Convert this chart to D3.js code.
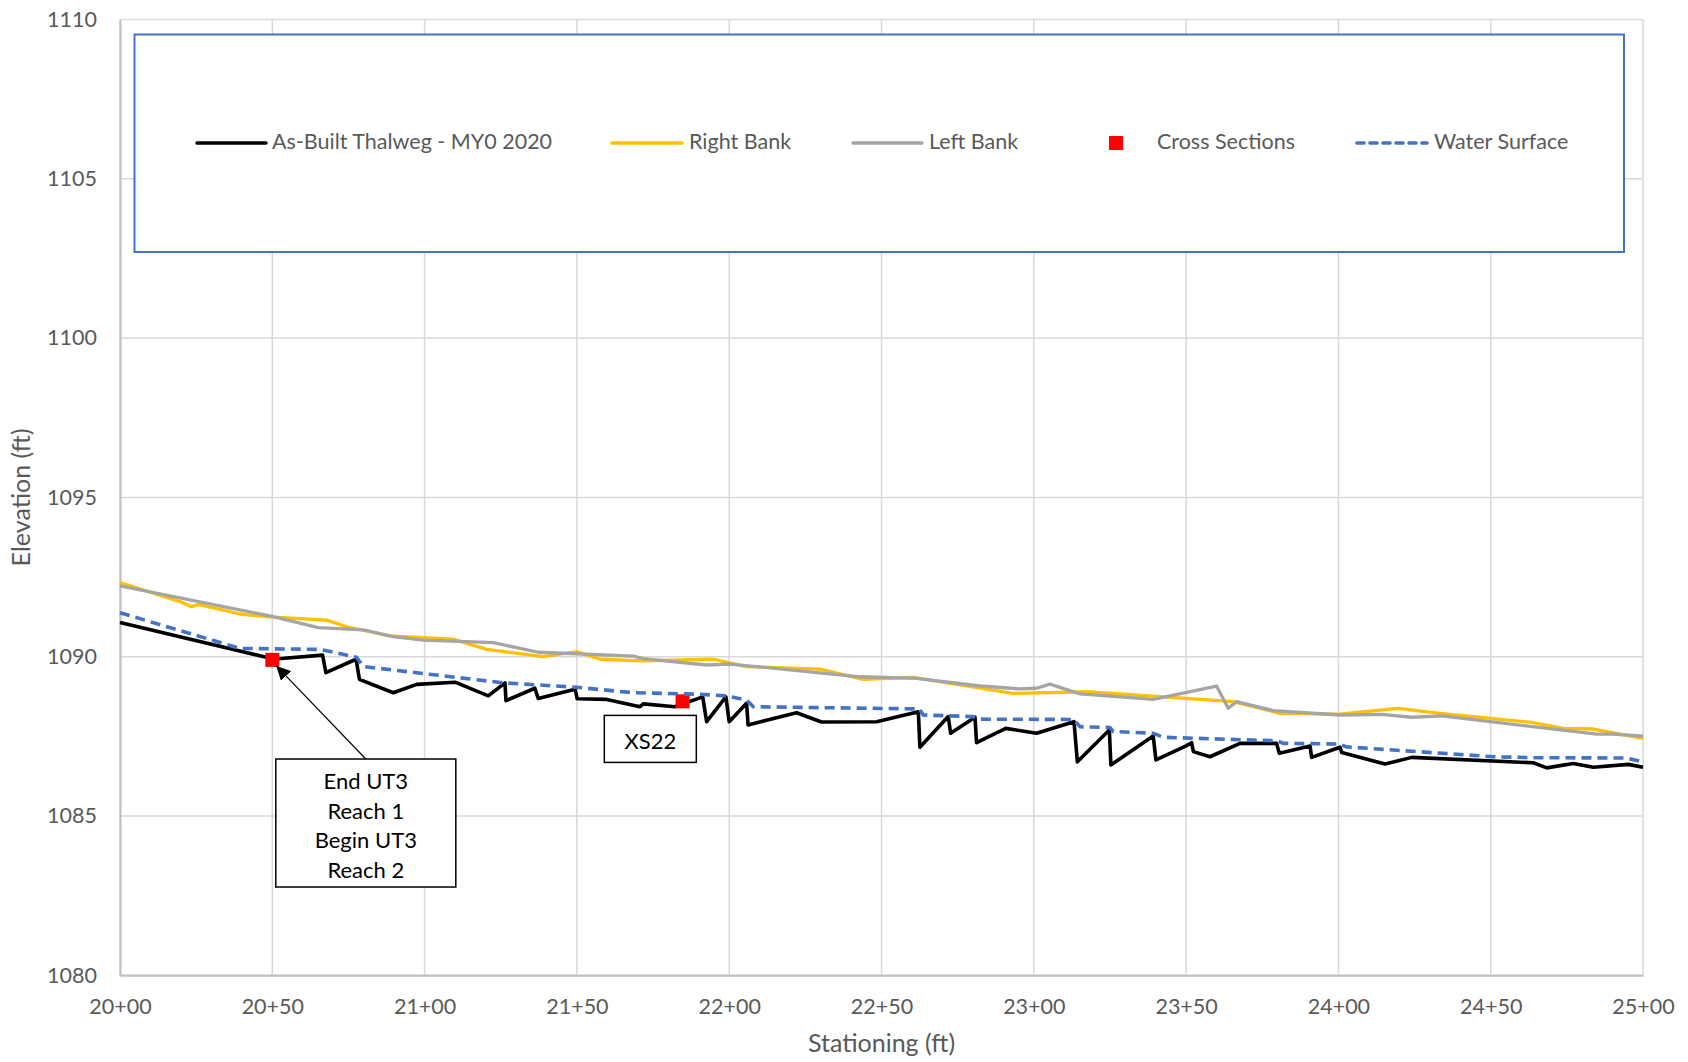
<!DOCTYPE html>
<html>
<head>
<meta charset="utf-8">
<script src="https://cdn.jsdelivr.net/npm/d3@7"></script>
<style>
  html, body { margin: 0; padding: 0; background: #fff; }
  svg { display: block; font-family: Lato, "Open Sans", sans-serif; }
</style>
</head>
<body>
<svg id="chart" width="1688" height="1062"></svg>
<script>
// Longitudinal profile, stationing in feet (2000 = 20+00), elevation in feet
const thalweg = [
  [2000,1091.07],[2048,1089.98],[2050,1089.92],[2066.5,1090.05],[2067.6,1089.5],
  [2077.5,1089.92],[2078.6,1089.29],[2089.7,1088.87],[2097.4,1089.13],[2110,1089.2],
  [2120.9,1088.77],[2126.4,1089.18],[2126.7,1088.62],[2136.2,1089.01],[2137.3,1088.69],
  [2149.4,1088.98],[2150.1,1088.68],[2159.8,1088.66],[2170.7,1088.43],[2171.8,1088.52],
  [2182.2,1088.43],[2191.3,1088.74],[2192.6,1087.96],[2198.9,1088.74],[2200,1087.96],
  [2205.7,1088.54],[2206.2,1087.86],[2222.1,1088.24],[2230.3,1087.95],[2248.4,1087.96],
  [2262.1,1088.27],[2262.6,1087.16],[2271.9,1088.12],[2272.7,1087.6],[2280.7,1088.1],
  [2281.2,1087.3],[2290.8,1087.75],[2300.9,1087.6],[2313.2,1087.96],[2314.3,1086.7],
  [2324.8,1087.7],[2325.3,1086.6],[2339.2,1087.51],[2340.1,1086.76],[2350,1087.2],
  [2351.8,1087.3],[2352.4,1087.02],[2357.8,1086.86],[2367.7,1087.28],[2379.7,1087.28],
  [2380.6,1086.97],[2390.7,1087.2],[2391.2,1086.84],[2400.5,1087.16],[2401.1,1086.99],
  [2415.3,1086.63],[2424.1,1086.84],[2464,1086.67],[2468.4,1086.51],[2477.1,1086.65],
  [2483.7,1086.53],[2495.2,1086.62],[2500,1086.53]
];

const rightBank = [
  [2000,1092.33],[2019.7,1091.73],[2023.5,1091.57],[2025.7,1091.64],[2039.4,1091.34],
  [2050.3,1091.24],[2067.8,1091.15],[2074.4,1090.94],[2088.6,1090.65],[2109.4,1090.55],
  [2120.4,1090.23],[2139,1090.0],[2149.9,1090.16],[2157.6,1089.92],[2170.7,1089.87],
  [2194.8,1089.92],[2205.7,1089.69],[2229.8,1089.61],[2244,1089.29],[2260.4,1089.35],
  [2293.2,1088.85],[2317.3,1088.9],[2365.5,1088.59],[2380.8,1088.22],[2400.5,1088.2],
  [2419.6,1088.38],[2433.4,1088.22],[2463.4,1087.94],[2473.8,1087.75],[2483.7,1087.73],
  [2500,1087.44]
];

const leftBank = [
  [2000,1092.22],[2050.3,1091.26],[2065.1,1090.91],[2079.9,1090.84],[2089.7,1090.63],
  [2099.6,1090.52],[2122.6,1090.44],[2137.3,1090.14],[2168.5,1090.02],[2171.8,1089.94],
  [2192.6,1089.74],[2200.3,1089.77],[2242.9,1089.37],[2261.5,1089.32],[2282.3,1089.08],
  [2295.4,1088.99],[2300.9,1089.01],[2305.3,1089.14],[2315.2,1088.83],[2339.2,1088.66],
  [2360,1089.08],[2363.8,1088.38],[2366.6,1088.59],[2378.6,1088.31],[2400.5,1088.17],
  [2414.2,1088.19],[2424.1,1088.1],[2434,1088.14],[2484.8,1087.57],[2490,1087.57],
  [2500,1087.51]
];

const crossSections = [
  [2050,1089.9],[2184.7,1088.6]
];

const waterSurface = [
  [2000,1091.38],[2039.4,1090.26],[2065.7,1090.23],[2077.7,1089.98],[2079.9,1089.69],
  [2125.8,1089.18],[2137.9,1089.11],[2149.9,1089.04],[2168.5,1088.87],[2190.4,1088.82],
  [2199.2,1088.77],[2205.7,1088.64],[2207.9,1088.43],[2262.4,1088.36],[2263.7,1088.17],
  [2280.1,1088.12],[2282.3,1088.04],[2313,1088.03],[2315.2,1087.8],[2325,1087.78],
  [2326.1,1087.65],[2339.2,1087.6],[2342.5,1087.47],[2379.7,1087.36],[2382,1087.28],
  [2400,1087.26],[2402.7,1087.17],[2450.9,1086.86],[2464,1086.83],[2494.6,1086.82],
  [2500,1086.7]
];

const xTicks = [2000,2050,2100,2150,2200,2250,2300,2350,2400,2450,2500];
const yTicks = [1080,1085,1090,1095,1100,1105,1110];

const legendLabels = ["As-Built Thalweg - MY0 2020","Right Bank","Left Bank","Cross Sections","Water Surface"];

// Callout boxes: centre in data units, text lines
const callouts = [
  { x: 2080.7, y: 1084.78, w: 180, h: 128, lines: ["End UT3","Reach 1","Begin UT3","Reach 2"], arrowTo: [2050,1089.9] },
  { x: 2174.1, y: 1087.42, w: 92, h: 47, lines: ["XS22"] }
];

const svg = d3.select("#chart");
const W = 1688, H = 1062;
const m = { left: 120, right: 1643, top: 19.5, bottom: 975.3 };

svg.append("rect").attr("width", W).attr("height", H).attr("fill", "#fff");

const x = d3.scaleLinear().domain([2000, 2500]).range([m.left, m.right]);
const y = d3.scaleLinear().domain([1080, 1110]).range([m.bottom, m.top]);

const fmtSta = d => Math.floor(d / 100) + "+" + String(d % 100).padStart(2, "0");
const textColor = "#595959";

// Gridlines
const grid = svg.append("g");
grid.selectAll("line.h").data(yTicks).join("line")
  .attr("x1", m.left).attr("x2", m.right)
  .attr("y1", d => y(d)).attr("y2", d => y(d))
  .attr("stroke", "#d9d9d9").attr("stroke-width", 1.5);
grid.selectAll("line.v").data(xTicks).join("line")
  .attr("x1", d => x(d)).attr("x2", d => x(d))
  .attr("y1", m.top).attr("y2", m.bottom)
  .attr("stroke", "#d9d9d9").attr("stroke-width", 1.5);

// Axes
const xAxis = svg.append("g").attr("transform", `translate(0,${m.bottom})`)
  .call(d3.axisBottom(x).tickValues(xTicks).tickFormat(fmtSta).tickSize(0).tickPadding(23));
const yAxis = svg.append("g").attr("transform", `translate(${m.left},0)`)
  .call(d3.axisLeft(y).tickValues(yTicks).tickFormat(d3.format("d")).tickSize(0).tickPadding(23));
[xAxis, yAxis].forEach(g => {
  g.select(".domain").attr("stroke", "#bfbfbf").attr("stroke-width", 2);
  g.selectAll("text").attr("fill", textColor).style("font-size", "21.5px").style("font-family", "Lato, sans-serif");
});

// Axis titles
svg.append("text").attr("x", (m.left + m.right) / 2).attr("y", 1046)
  .attr("text-anchor", "middle").attr("dominant-baseline", "middle")
  .attr("fill", textColor).style("font-size", "25px").text("Stationing (ft)");
svg.append("text").attr("transform", `translate(24,${(m.top + m.bottom) / 2}) rotate(-90)`)
  .attr("text-anchor", "middle").attr("dominant-baseline", "middle")
  .attr("fill", textColor).style("font-size", "25px").text("Elevation (ft)");

// Series
const line = d3.line().x(d => x(d[0])).y(d => y(d[1]));
const plot = svg.append("g");
plot.append("path").datum(thalweg).attr("d", line)
  .attr("fill", "none").attr("stroke", "#000").attr("stroke-width", 3.6).attr("stroke-linejoin", "round");
plot.append("path").datum(rightBank).attr("d", line)
  .attr("fill", "none").attr("stroke", "#ffc000").attr("stroke-width", 3.3).attr("stroke-linejoin", "round");
plot.append("path").datum(leftBank).attr("d", line)
  .attr("fill", "none").attr("stroke", "#a5a5a5").attr("stroke-width", 3.3).attr("stroke-linejoin", "round");
plot.selectAll("rect.xs").data(crossSections).join("rect")
  .attr("x", d => x(d[0]) - 7).attr("y", d => y(d[1]) - 7)
  .attr("width", 14).attr("height", 14).attr("fill", "#ff0000");
plot.append("path").datum(waterSurface).attr("d", line)
  .attr("fill", "none").attr("stroke", "#4472c4").attr("stroke-width", 3.6)
  .attr("stroke-dasharray", "10,6");

// Legend
const lg = svg.append("g");
lg.append("rect").attr("x", 134.5).attr("y", 34.5).attr("width", 1489.5).attr("height", 217.5)
  .attr("fill", "#fff").attr("stroke", "#4472c4").attr("stroke-width", 2);
const legendY = 143;
const legendItems = [
  { type: "line", x0: 197, x1: 266, tx: 272, color: "#000" },
  { type: "line", x0: 612, x1: 682, tx: 689, color: "#ffc000" },
  { type: "line", x0: 853, x1: 922, tx: 929, color: "#a5a5a5" },
  { type: "square", x0: 1109, x1: 1123, tx: 1157, color: "#ff0000" },
  { type: "dash", x0: 1357, x1: 1427, tx: 1434, color: "#4472c4" }
];
legendItems.forEach((it, i) => {
  if (it.type === "square") {
    lg.append("rect").attr("x", it.x0).attr("y", legendY - 7).attr("width", 14).attr("height", 14).attr("fill", it.color);
  } else {
    const l = lg.append("line").attr("x1", it.x0).attr("x2", it.x1).attr("y1", legendY).attr("y2", legendY)
      .attr("stroke", it.color).attr("stroke-width", it.type === "dash" ? 3.6 : 3.4).attr("stroke-linecap", "round");
    if (it.type === "dash") l.attr("stroke-dasharray", "7,6");
  }
  lg.append("text").attr("x", it.tx).attr("y", legendY + 1).attr("dominant-baseline", "middle")
    .attr("fill", textColor).style("font-size", "21.5px").text(legendLabels[i]);
});

// Callouts
const defs = svg.append("defs");
defs.append("marker").attr("id", "arrowhead").attr("viewBox", "0 0 10 10")
  .attr("refX", 10).attr("refY", 5).attr("markerWidth", 14).attr("markerHeight", 14)
  .attr("markerUnits", "userSpaceOnUse").attr("orient", "auto")
  .append("path").attr("d", "M0,0 L10,5 L0,10 z").attr("fill", "#000");

callouts.forEach(c => {
  const cx = x(c.x), cy = y(c.y);
  const top = cy - c.h / 2;
  if (c.arrowTo) {
    svg.append("line").attr("x1", cx).attr("y1", top)
      .attr("x2", x(c.arrowTo[0]) + 4).attr("y2", y(c.arrowTo[1]) + 6)
      .attr("stroke", "#000").attr("stroke-width", 1.2).attr("marker-end", "url(#arrowhead)");
  }
  svg.append("rect").attr("x", cx - c.w / 2).attr("y", top).attr("width", c.w).attr("height", c.h)
    .attr("fill", "#fff").attr("stroke", "#000").attr("stroke-width", 1.5);
  const lh = 29.5;
  c.lines.forEach((t, i) => {
    svg.append("text").attr("x", cx).attr("y", cy + 5 + (i - (c.lines.length - 1) / 2) * lh)
      .attr("text-anchor", "middle").attr("dominant-baseline", "middle")
      .attr("fill", "#000").style("font-size", "22px").text(t);
  });
});
</script>
</body>
</html>
